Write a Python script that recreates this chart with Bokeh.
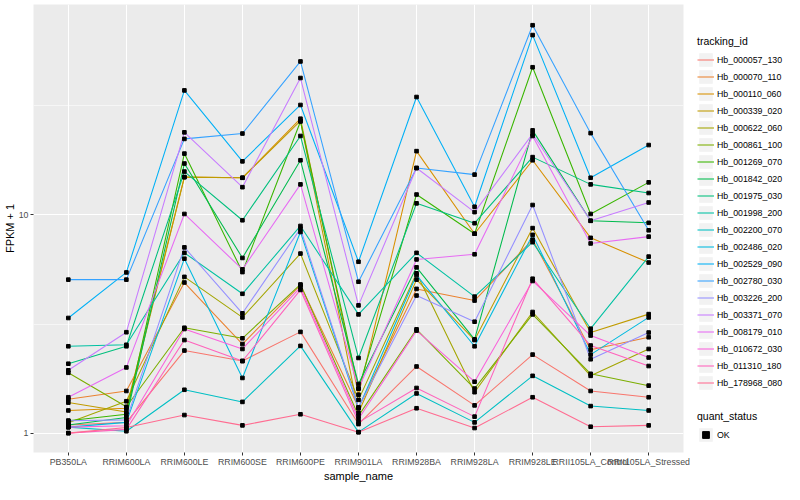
from bokeh.plotting import figure
from bokeh.models import Range1d, FixedTicker, Legend, LegendItem, ColumnDataSource, NumeralTickFormatter
from bokeh.layouts import row
from bokeh.embed import file_html
from bokeh.resources import INLINE

samples = ["PB350LA", "RRIM600LA", "RRIM600LE", "RRIM600SE", "RRIM600PE", "RRIM901LA",
           "RRIM928BA", "RRIM928LA", "RRIM928LE", "RRII105LA_Control", "RRII105LA_Stressed"]

tracking_ids = ["Hb_000057_130", "Hb_000070_110", "Hb_000110_060", "Hb_000339_020", "Hb_000622_060",
                "Hb_000861_100", "Hb_001269_070", "Hb_001842_020", "Hb_001975_030", "Hb_001998_200",
                "Hb_002200_070", "Hb_002486_020", "Hb_002529_090", "Hb_002780_030", "Hb_003226_200",
                "Hb_003371_070", "Hb_008179_010", "Hb_010672_030", "Hb_011310_180", "Hb_178968_080"]

palette = ["#F8766D", "#EA8331", "#D89000", "#C09B00", "#A3A500", "#7CAE00", "#39B600", "#00BB4E",
           "#00BF7D", "#00C1A3", "#00BFC4", "#00BAE0", "#00B0F6", "#35A2FF", "#9590FF", "#C77CFF",
           "#E76BF3", "#FA62DB", "#FF62BC", "#FF6C91"]

# FPKM + 1 per sample (order of `samples`)
hb_000057_130 = [1.09, 1.12, 2.39, 2.14, 2.91, 1.10, 2.02, 1.34, 2.29, 1.56, 1.46]
hb_000070_110 = [1.43, 1.56, 4.90, 2.56, 4.77, 1.31, 4.58, 4.05, 7.70, 2.41, 2.75]
hb_000110_060 = [1.27, 1.30, 14.9, 14.8, 27.6, 1.50, 19.6, 8.20, 17.8, 7.85, 6.05]
hb_000339_020 = [1.38, 1.25, 14.9, 14.8, 27.0, 1.24, 5.05, 2.67, 8.70, 2.89, 3.51]
hb_000622_060 = [1.115, 1.40, 5.20, 3.39, 6.65, 1.42, 5.40, 1.54, 3.59, 1.83, 2.43]
hb_000861_100 = [1.89, 1.32, 3.04, 2.72, 4.80, 1.20, 2.99, 1.60, 3.50, 1.87, 1.65]
hb_001269_070 = [1.14, 1.22, 19.1, 5.47, 26.8, 1.60, 12.4, 8.20, 47.5, 10.1, 14.1]
hb_001842_020 = [1.09, 1.18, 17.2, 6.35, 17.8, 1.68, 5.75, 2.69, 24.4, 9.40, 9.20]
hb_001975_030 = [2.08, 2.50, 15.8, 9.45, 23.0, 2.21, 11.3, 9.16, 18.4, 13.8, 12.6]
hb_001998_200 = [2.50, 2.54, 6.70, 4.35, 8.90, 3.50, 6.70, 4.22, 7.50, 3.01, 6.44]
hb_002200_070 = [1.065, 1.02, 1.58, 1.39, 2.51, 1.01, 1.52, 1.12, 1.83, 1.33, 1.27]
hb_002486_020 = [1.065, 1.12, 6.30, 1.79, 8.35, 1.30, 5.30, 2.50, 8.10, 2.29, 3.39]
hb_002529_090 = [3.37, 5.45, 37.2, 17.6, 31.9, 6.10, 34.7, 10.9, 66.7, 14.8, 20.9]
hb_002780_030 = [5.05, 5.05, 22.3, 23.6, 50.5, 4.94, 16.4, 15.3, 74.0, 23.7, 8.50]
hb_003226_200 = [1.14, 1.15, 7.10, 3.54, 8.65, 1.31, 4.27, 3.24, 11.1, 2.18, 2.89]
hb_003371_070 = [1.94, 2.90, 23.9, 13.4, 42.4, 3.85, 16.4, 10.3, 23.5, 9.40, 11.4]
hb_008179_010 = [1.46, 2.00, 10.1, 5.63, 13.8, 1.60, 6.25, 6.60, 23.0, 7.40, 7.95]
hb_010672_030 = [1.065, 1.08, 3.00, 2.43, 4.66, 1.16, 2.95, 1.72, 4.98, 2.80, 2.22]
hb_011310_180 = [1.00, 1.04, 2.67, 2.14, 4.53, 1.12, 1.61, 1.19, 5.10, 2.52, 2.03]
hb_178968_080 = [1.00, 1.06, 1.21, 1.085, 1.22, 1.01, 1.30, 1.055, 1.46, 1.07, 1.085]

series_values = [hb_000057_130, hb_000070_110, hb_000110_060, hb_000339_020, hb_000622_060,
                 hb_000861_100, hb_001269_070, hb_001842_020, hb_001975_030, hb_001998_200,
                 hb_002200_070, hb_002486_020, hb_002529_090, hb_002780_030, hb_003226_200,
                 hb_003371_070, hb_008179_010, hb_010672_030, hb_011310_180, hb_178968_080]

quant_status = ["OK"]

FONT = "Liberation Sans"
x_idx = list(range(1, len(samples) + 1))

p = figure(width=694, height=484, output_backend="svg", toolbar_location=None,
           y_axis_type="log",
           x_range=Range1d(0.4, len(samples) + 0.6), y_range=Range1d(0.815, 92.1),
           min_border_left=30, min_border_right=11, min_border_top=4, min_border_bottom=26)
p.background_fill_color = "#EBEBEB"
p.border_fill_color = "white"
p.outline_line_color = None

p.xaxis.ticker = FixedTicker(ticks=x_idx)
p.xaxis.major_label_overrides = {i: s for i, s in zip(x_idx, samples)}
p.yaxis.ticker = FixedTicker(ticks=[1, 10, 100], minor_ticks=[10 ** 0.5, 10 ** 1.5])
p.yaxis.formatter = NumeralTickFormatter(format="0")
p.yaxis.major_label_overrides = {1: "1", 10: "10", 100: "100"}
p.xaxis.axis_label = "sample_name"
p.yaxis.axis_label = "FPKM + 1"

for ax in (p.xaxis[0], p.yaxis[0]):
    ax.axis_line_color = None
    ax.major_tick_line_color = "#333333"
    ax.major_tick_in = 0
    ax.major_tick_out = 3
    ax.minor_tick_line_color = None
    ax.major_label_text_font = FONT
    ax.major_label_text_font_size = "8.8px"
    ax.major_label_text_color = "#4D4D4D"
    ax.major_label_standoff = 1
    ax.axis_label_text_font = FONT
    ax.axis_label_text_font_size = "11px"
    ax.axis_label_text_font_style = "normal"
    ax.axis_label_text_color = "black"
    ax.axis_label_standoff = 0

p.xgrid.grid_line_color = "white"
p.xgrid.grid_line_width = 1.1
p.ygrid.grid_line_color = "white"
p.ygrid.grid_line_width = 1.1
p.ygrid.minor_grid_line_color = "white"
p.ygrid.minor_grid_line_width = 0.55

for vals, col in zip(series_values, palette):
    p.line(x_idx, vals, line_color=col, line_width=1.07)

px, py = [], []
for vals in series_values:
    px.extend(x_idx)
    py.extend(vals)
pts = ColumnDataSource(dict(x=px, y=py))
p.scatter("x", "y", source=pts, marker="square", size=3.6, color="black")

# legend panel (keys only; glyph data are NaN so nothing is drawn in the panel itself)
NAN = float("nan")
leg = figure(width=98, height=484, output_backend="svg", toolbar_location=None,
             x_range=Range1d(0, 1), y_range=Range1d(0, 1),
             x_axis_location=None, y_axis_location=None,
             min_border_left=0, min_border_right=0, min_border_top=0, min_border_bottom=0)
leg.grid.visible = False
leg.outline_line_color = None
leg.background_fill_color = "white"
leg.border_fill_color = "white"

bg = leg.quad(left=[NAN], right=[NAN], top=[NAN], bottom=[NAN], fill_color="#F2F2F2", line_color=None)
items = []
for tid, col in zip(tracking_ids, palette):
    r = leg.line(x=[NAN], y=[NAN], line_color=col, line_width=1.07)
    items.append(LegendItem(label=tid, renderers=[bg, r]))
sq = leg.scatter(x=[NAN], y=[NAN], marker="square", size=3.6, color="black")
items2 = [LegendItem(label=q, renderers=[bg, sq]) for q in quant_status]


def style(lg):
    lg.background_fill_alpha = 0
    lg.border_line_color = None
    lg.padding = 0
    lg.margin = 0
    lg.spacing = 0
    lg.glyph_width = 17
    lg.glyph_height = 17
    lg.label_height = 17
    lg.label_standoff = 3
    lg.label_text_font = FONT
    lg.label_text_font_size = "8.8px"
    lg.label_text_color = "black"
    lg.title_text_font = FONT
    lg.title_text_font_size = "10.5px"
    lg.title_text_font_style = "normal"
    lg.title_text_color = "black"
    lg.title_standoff = 4


lg1 = Legend(items=items, title="tracking_id", location=(3, 61))
style(lg1)
lg2 = Legend(items=items2, title="quant_status", location=(3, 9))
style(lg2)
leg.add_layout(lg1, "center")
leg.add_layout(lg2, "center")

layout = row(p, leg)
open("out.html", "w").write(file_html(layout, INLINE))
